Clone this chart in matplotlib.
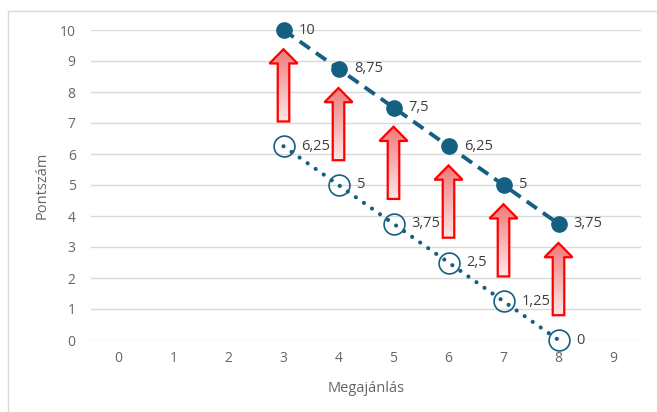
import numpy as np
import matplotlib
matplotlib.use("Agg")
import matplotlib.pyplot as plt
from matplotlib.patches import Polygon, Rectangle
from matplotlib.colors import LinearSegmentedColormap

plt.rcParams['font.family'] = ['Open Sans', 'DejaVu Sans']

# Data
offers = [3, 4, 5, 6, 7, 8]
score_high = [10, 8.75, 7.5, 6.25, 5, 3.75]
score_low = [6.25, 5, 3.75, 2.5, 1.25, 0]
label_high = ["10", "8,75", "7,5", "6,25", "5", "3,75"]
label_low = ["6,25", "5", "3,75", "2,5", "1,25", "0"]
x_ticks = list(range(0, 10))
y_ticks = list(range(0, 11))

BLUE = "#156082"
TEXT = "#666666"
LABEL = "#404040"
GRID = "#d9d9d9"

fig = plt.figure(figsize=(6.57, 4.12), dpi=100)
ax = fig.add_axes([91 / 657, 1 - 340 / 412, (641 - 91) / 657, (340 - 30) / 412])

# outer chart frame
fig.patches.append(Rectangle((8 / 657, -0.01), 1.0, 1 - 11 / 412 + 0.01,
                             transform=fig.transFigure, fill=False,
                             edgecolor=GRID, linewidth=1.0))

ax.set_xlim(-0.5, 9.5)
ax.set_ylim(0, 10)
ax.set_xticks(x_ticks)
ax.set_yticks(y_ticks)
ax.tick_params(axis='both', length=0, colors=TEXT, labelsize=10)
ax.tick_params(axis='y', pad=11)
ax.tick_params(axis='x', pad=8)
for s in ax.spines.values():
    s.set_visible(False)
ax.yaxis.grid(True, color=GRID, linewidth=1.0)
ax.set_axisbelow(True)
ax.set_xlabel("Megajánlás", color=TEXT, fontsize=10.5, labelpad=11)
ax.set_ylabel("Pontszám", color=TEXT, fontsize=10.5, labelpad=7)

# upward arrows between the two series, gradient filled
cmap = LinearSegmentedColormap.from_list("pinkfade", ["#fde6e6", "#f07a7a"])
shaft_hw = 0.105
head_hw = 0.255
head_len = 0.46
for x, lo, hi in zip(offers, score_low, score_high):
    y0 = lo + 0.8
    y1 = hi - 0.62
    yb = y1 - head_len
    verts = [(x - shaft_hw, y0), (x + shaft_hw, y0), (x + shaft_hw, yb),
             (x + head_hw, yb), (x, y1), (x - head_hw, yb),
             (x - shaft_hw, yb)]
    poly = Polygon(verts, closed=True, facecolor="none", edgecolor="#ff0000",
                   linewidth=1.6, zorder=4, joinstyle="miter")
    grad = np.linspace(0, 1, 100).reshape(-1, 1)
    im = ax.imshow(grad, cmap=cmap, origin="lower", aspect="auto",
                   extent=(x - head_hw, x + head_hw, y0, y1), zorder=3)
    clip = Polygon(verts, closed=True, transform=ax.transData)
    im.set_clip_path(clip)
    ax.add_patch(poly)

ax.set_xlim(-0.5, 9.5)
ax.set_ylim(0, 10)

# series lines
ax.plot(offers, score_high, color=BLUE, linewidth=2.8, linestyle=(0, (3.2, 1.9)),
        marker="o", markersize=11, markerfacecolor=BLUE, markeredgecolor=BLUE,
        zorder=5, clip_on=False)
low_line, = ax.plot(offers, score_low, color=BLUE, linewidth=3.0,
                    linestyle=(0, (0.01, 2.35)),
                    marker="o", markersize=15, markerfacecolor="none",
                    markeredgecolor=BLUE, markeredgewidth=1.2, zorder=5,
                    clip_on=False)
low_line.set_dash_capstyle("round")

for x, y, t in zip(offers, score_high, label_high):
    ax.annotate(t, (x, y), xytext=(11, 0), textcoords="offset points",
                va="center", ha="left", color=LABEL, fontsize=10.5, zorder=6)
for x, y, t in zip(offers, score_low, label_low):
    ax.annotate(t, (x, y), xytext=(13, 0), textcoords="offset points",
                va="center", ha="left", color=LABEL, fontsize=10.5, zorder=6)

fig.savefig("out.png", dpi=100)
